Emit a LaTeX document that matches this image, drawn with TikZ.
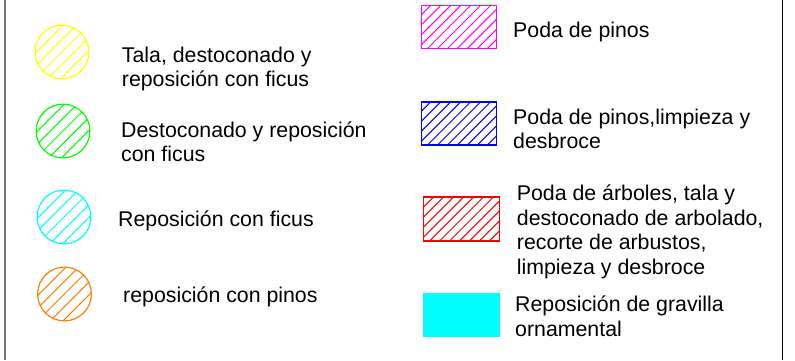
\documentclass[tikz,border=0pt]{standalone}
\usepackage{fontspec}
\setmainfont{Liberation Sans}
\definecolor{hYellow}{RGB}{255,255,0}
\definecolor{hGreen}{RGB}{0,255,0}
\definecolor{hCyan}{RGB}{0,255,255}
\definecolor{hOrange}{RGB}{255,127,0}
\definecolor{hMagenta}{RGB}{255,0,255}
\definecolor{hBlue}{RGB}{0,0,255}
\definecolor{hRed}{RGB}{255,0,0}
\definecolor{frameGray}{RGB}{120,120,120}
\tikzset{
  hatchcirc/.style={circle, draw=#1, line width=1.2, minimum size=54, inner sep=0,
    path picture={\foreach \k in {-63.5,-50.8,...,64} \draw[#1, line width=1]
      ([xshift=\k]path picture bounding box.center) ++(-45,-45) -- ++(90,90);}},
  hatchrect/.style={rectangle, draw=#1, line width=1.2, minimum width=76, minimum height=43, inner sep=0,
    path picture={\foreach \k in {-100,-90,...,100} \draw[#1, line width=1]
      ([xshift=\k]path picture bounding box.center) ++(-50,-50) -- ++(100,100);}},
  lbl/.style={anchor=base west, align=left, inner sep=0, font=\fontsize{21.4}{24.5}\selectfont},
}
\begin{document}
\begin{tikzpicture}[x=1bp, y=1bp]
\useasboundingbox (0,0) rectangle (795,360);
% frame lines
\draw[frameGray, line width=1.2] (5,0) -- (5,360);
\draw[black, line width=1.2] (782.7,0) -- (782.7,360);
% left column symbols
\node[hatchcirc=hYellow] (c1) at (62,308) {};
\node[hatchcirc=hGreen] (c2) at (63,229) {};
\node[hatchcirc=hCyan] (c3) at (64,143) {};
\node[hatchcirc=hOrange] (c4) at (64.5,66) {};
% right column symbols
\node[hatchrect=hMagenta] (r1) at (459,333) {};
\node[hatchrect=hBlue] (r2) at (459,236.5) {};
\node[hatchrect=hRed, minimum width=77, minimum height=44] (r3) at (461.5,141) {};
\node[rectangle, fill=hCyan, minimum width=77, minimum height=44, inner sep=0] (r4) at (461.5,45) {};
% labels (anchored at the baseline of the last line)
\node[lbl] (t1) at (121.7,273.5) {Tala, destoconado y\\reposición con ficus};
\node[lbl] (t2) at (121,198.5) {Destoconado y reposición\\con ficus};
\node[lbl] (t3) at (118,134) {Reposición con ficus};
\node[lbl] (t4) at (123,58) {reposición con pinos};
\node[lbl] (t5) at (513,323) {Poda de pinos};
\node[lbl] (t6) at (513,211.5) {Poda de pinos,limpieza y\\desbroce};
\node[lbl] (t7) at (516.7,85.8) {Poda de árboles, tala y\\destoconado de arbolado,\\recorte de arbustos,\\limpieza y desbroce};
\node[lbl] (t8) at (515,23.8) {Reposición de gravilla\\ornamental};
\end{tikzpicture}
\end{document}
